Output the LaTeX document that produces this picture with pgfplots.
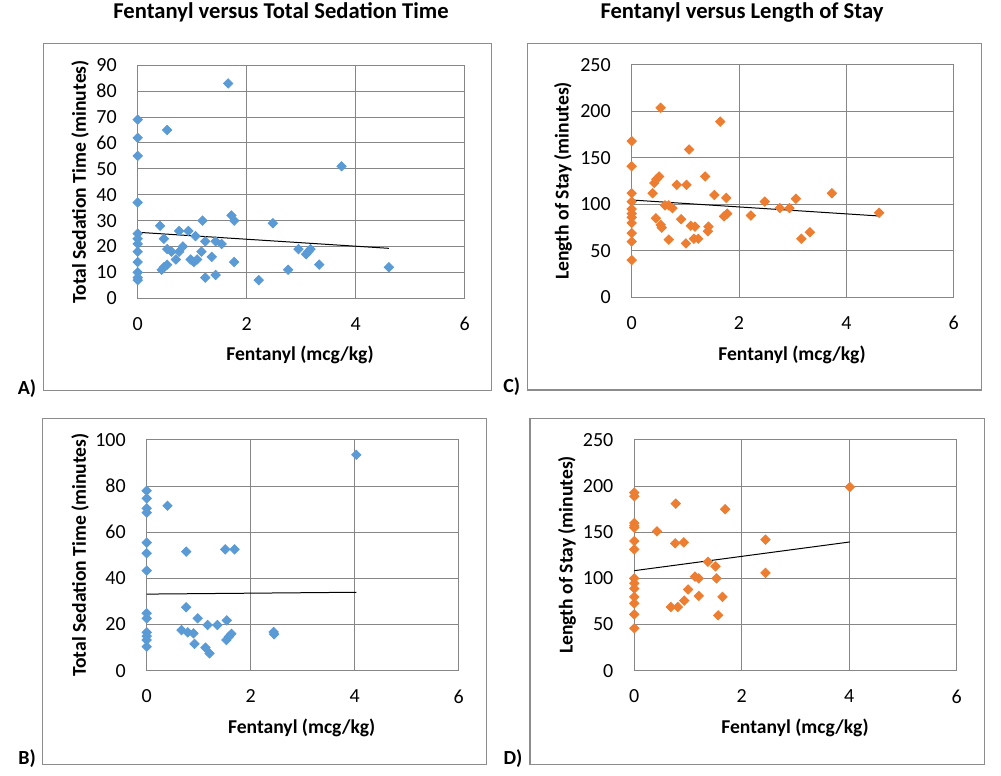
\documentclass[border=0pt]{standalone}
\usepackage{fontspec}
\setmainfont{Carlito}
\usepackage{pgfplots}
\pgfplotsset{compat=1.18}

\definecolor{xlblue}{HTML}{5B9BD5}
\definecolor{xlorange}{HTML}{ED7D31}
\definecolor{gridgray}{HTML}{868686}
\definecolor{framegray}{HTML}{8C8C8C}

\pgfplotsset{
  panel/.style={
    scale only axis,
    anchor=south west,
    xmin=0, xmax=6, xtick={0,2,4,6},
    ymin=0,
    grid=major,
    major grid style={gridgray, line width=0.5pt},
    axis line style={gridgray, line width=0.5pt},
    major tick length=0pt,
    tick label style={font=\fontsize{10}{12}\selectfont, inner sep=0pt},
    xticklabel style={yshift=-9.3pt},
    yticklabel style={xshift=-10.3pt},
    /pgf/number format/assume math mode=true,
    clip=false,
  },
  pts/.style={only marks, mark=square*, mark size=1.65pt,
    mark options={rotate=45, fill=#1, draw=#1}, color=#1},
  trend/.style={black, line width=0.5pt, no marks, sharp plot},
}

\begin{document}
\begin{tikzpicture}
\useasboundingbox (0,0) rectangle (500.5pt,388pt);

% chart frames
\draw[framegray, line width=0.6pt] (21.65pt,192.75pt) rectangle (245.65pt,366.35pt);
\draw[framegray, line width=0.6pt] (263.85pt,193pt) rectangle (490.85pt,366.35pt);
\draw[framegray, line width=0.6pt] (21.35pt,5.85pt) rectangle (243.35pt,178.85pt);
\draw[framegray, line width=0.6pt] (265pt,5.85pt) rectangle (492.15pt,178.85pt);

% titles
\node[font=\fontsize{11.3}{13}\selectfont\bfseries] at (140.5pt,381.6pt) {Fentanyl versus Total Sedation Time};
\node[font=\fontsize{11.3}{13}\selectfont\bfseries] at (371pt,381.6pt) {Fentanyl versus Length of Stay};

% panel letters
\node[font=\fontsize{10}{12}\selectfont\bfseries] at (13.5pt,193.5pt) {A)};
\node[font=\fontsize{10}{12}\selectfont\bfseries] at (255.9pt,194.5pt) {C)};
\node[font=\fontsize{10}{12}\selectfont\bfseries] at (13.5pt,8.5pt) {B)};
\node[font=\fontsize{10}{12}\selectfont\bfseries] at (256.5pt,8.5pt) {D)};

% A
\begin{axis}[panel, at={(68.85pt,238.85pt)}, width=163.5pt, height=116.5pt,
  ymax=90, ytick distance=10]
\addplot[pts=xlblue] coordinates {
(0,69)(0,62)(0,55)(0,37)(0,25)(0,23)(0,21)(0,18)(0,14)(0,10)(0,8)(0,7)
(0.54,65)(1.66,83)(0.41,28)(0.48,23)(0.44,11)(0.48,12)(0.54,13)(0.54,19)
(0.62,18)(0.70,15)(0.76,26)(0.76,18)(0.83,20)(0.93,26)(0.97,15)(1.03,14)
(1.06,24)(1.09,15)(1.17,18)(1.19,30)(1.24,22)(1.24,8)(1.36,16)(1.43,22)
(1.43,9)(1.54,21)(1.72,32)(1.77,30)(1.77,14)(2.22,7)(2.48,29)(2.76,11)
(2.95,19)(3.09,17)(3.13,18)(3.17,19)(3.33,13)(3.74,51)(4.61,12)
};
\addplot[trend] coordinates {(0,25.5)(4.61,19.3)};
\end{axis}

% C
\begin{axis}[panel, at={(315.85pt,239.35pt)}, width=161pt, height=116.15pt,
  ymax=250, ytick distance=50]
\addplot[pts=xlorange] coordinates {
(0,168)(0,141)(0,112)(0,103)(0,95)(0,90)(0,86)(0,80)(0,69)(0,60)(0,40)
(0.54,204)(1.65,189)(1.07,159)(0.39,112)(0.42,123)(0.46,127)(0.51,130)
(0.45,85)(0.54,78)(0.56,75)(0.62,99)(0.69,99)(0.76,96)(0.69,62)(0.84,121)
(0.92,84)(1.01,58)(1.02,121)(1.10,77)(1.18,76)(1.16,63)(1.24,63)(1.37,130)
(1.43,76)(1.42,71)(1.54,110)(1.72,87)(1.78,90)(1.76,107)(2.22,88)(2.48,103)
(2.76,96)(2.94,96)(3.06,106)(3.16,63)(3.32,70)(3.73,112)(4.61,91)
};
\addplot[trend] coordinates {(0,104.7)(4.61,87.5)};
\end{axis}

% B
\begin{axis}[panel, at={(73.35pt,52.65pt)}, width=156pt, height=115.35pt,
  ymax=100, ytick distance=20]
\addplot[pts=xlblue] coordinates {
(0,78)(0,74.7)(0,70.4)(0,68.5)(0,55.5)(0,50.9)(0,43.4)(0,24.9)(0,22.7)
(0,16.6)(0,15)(0,13.3)(0,10.4)
(0.40,71.5)(0.76,51.6)(1.51,52.6)(1.69,52.6)(4.03,93.6)(0.76,27.5)
(0.98,22.7)(0.67,17.6)(0.79,16.6)(0.90,16.2)(0.92,11.6)(1.17,19.8)
(1.36,19.8)(1.54,21.8)(1.13,10)(1.21,7.5)(1.53,13.3)(1.58,14.7)(1.63,16)
(2.44,16.8)(2.45,15.8)
};
\addplot[trend] coordinates {(0,33.2)(4.03,34.0)};
\end{axis}

% D
\begin{axis}[panel, at={(317.15pt,52.65pt)}, width=161.25pt, height=115.35pt,
  ymax=250, ytick distance=50]
\addplot[pts=xlorange] coordinates {
(0,193)(0,189)(0,160)(0,157)(0,155)(0,140.5)(0,131.5)(0,100)(0,94.7)
(0,89)(0,80)(0,73)(0,61)(0,46)
(0.42,151)(0.77,181)(0.76,138)(0.92,139)(1.69,175)(4.01,199)(2.44,142)
(2.44,106)(1.37,118)(1.51,113)(1.13,102)(1.20,100)(1.53,100)(1.00,88)
(1.20,81)(1.64,80)(0.93,76)(0.68,69)(0.81,69)(1.56,60)
};
\addplot[trend] coordinates {(0,108.4)(4.01,139.5)};
\end{axis}

% axis titles
\node[font=\fontsize{9.8}{12}\selectfont\bfseries] at (150pt,210.5pt) {Fentanyl (mcg/kg)};
\node[font=\fontsize{9.8}{12}\selectfont\bfseries] at (396pt,210.5pt) {Fentanyl (mcg/kg)};
\node[font=\fontsize{9.8}{12}\selectfont\bfseries] at (150.85pt,24pt) {Fentanyl (mcg/kg)};
\node[font=\fontsize{9.8}{12}\selectfont\bfseries] at (397.5pt,24pt) {Fentanyl (mcg/kg)};
\node[font=\fontsize{9.8}{12}\selectfont\bfseries, rotate=90] at (40pt,297.1pt) {Total Sedation Time (minutes)};
\node[font=\fontsize{9.8}{12}\selectfont\bfseries, rotate=90] at (281.5pt,297.5pt) {Length of Stay (minutes)};
\node[font=\fontsize{9.8}{12}\selectfont\bfseries, rotate=90] at (40pt,110.5pt) {Total Sedation Time (minutes)};
\node[font=\fontsize{9.8}{12}\selectfont\bfseries, rotate=90] at (283.5pt,110.5pt) {Length of Stay (minutes)};
\end{tikzpicture}
\end{document}
